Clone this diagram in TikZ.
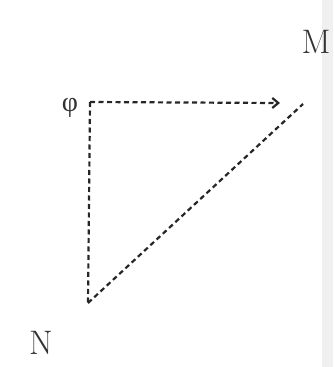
\documentclass[tikz,border=0pt]{standalone}
\usepackage{fontspec}
\newfontfamily\grk{Liberation Serif}
\usetikzlibrary{arrows.meta}
\begin{document}
\begin{tikzpicture}[x=1pt,y=-1pt,
  dline/.style={draw=black!85, line width=2.2pt, dash pattern=on 5pt off 3.5pt},
  lbl/.style={inner sep=0pt, text=black!80, font=\fontsize{34}{40}\selectfont}]
\useasboundingbox (0,0) rectangle (333,367);
\fill[black!6] (322,0) rectangle (333,367);
\coordinate (A) at (90,102);
\coordinate (B) at (303,104);
\coordinate (C) at (88,303);
\coordinate (T) at (280,103);
\draw[dline, -{Straight Barb[length=6pt,width=10pt]}] (A) -- (T);
\draw[dline] (A) -- (C);
\draw[dline] (C) -- (B);
\node[lbl] (phi) at (70,108) {\grk\fontsize{28}{32}\selectfont φ};
\node[lbl] (M) at (316,42) {M};
\node[lbl] (N) at (41,343) {N};
\end{tikzpicture}
\end{document}
